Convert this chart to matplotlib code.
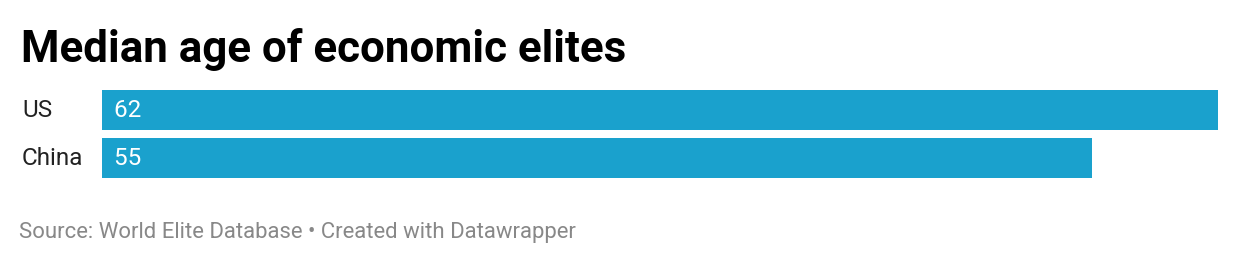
import matplotlib
matplotlib.use("Agg")
import matplotlib.pyplot as plt
import matplotlib.transforms as mtrans

categories = ["US", "China"]
values = [62, 55]
title = "Median age of economic elites"
source = "Source: World Elite Database • Created with Datawrapper"

W, H = 1240, 264
plt.rcParams['font.family'] = ['Roboto', 'DejaVu Sans']
fig = plt.figure(figsize=(W / 100, H / 100), dpi=100)

bar_color = "#1aa1cd"
ax = fig.add_axes([102 / W, 1 - 182 / H, 1116 / W, 96 / H])
ypos = list(range(len(categories)))
ax.barh(ypos, values, height=40 / 48, color=bar_color, align="center")
ax.set_xlim(0, max(values))
ax.set_ylim(len(categories) - 0.5, -0.5)
ax.axis("off")

for y, v in zip(ypos, values):
    ax.text(0, y + 0.02, f"  {v}", color="white", fontsize=17.5, va="center", ha="left")

tr = mtrans.blended_transform_factory(fig.transFigure, ax.transData)
for y, c in zip(ypos, categories):
    fig.text(22 / W, y + 0.02, c, fontsize=17.5, color="#222222", va="center", ha="left", transform=tr)

fig.text(21 / W, 1 - 62 / H, title, fontsize=31.6, fontweight="bold", color="#000000",
         va="baseline", ha="left")
fig.text(19 / W, 1 - 238 / H, source, fontsize=15.9, color="#888888",
         va="baseline", ha="left")

fig.savefig("out.png", dpi=100, facecolor="white")
